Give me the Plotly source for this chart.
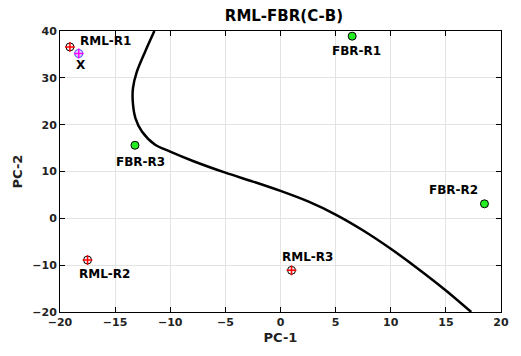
import plotly.graph_objects as go

# Data
rml_names = ["RML-R1", "RML-R2", "RML-R3"]
rml_x = [-19.1, -17.5, 1.0]
rml_y = [36.6, -8.9, -11.1]

fbr_names = ["FBR-R1", "FBR-R2", "FBR-R3"]
fbr_x = [6.5, 18.5, -13.2]
fbr_y = [38.9, 3.1, 15.6]

unk_name = ["X"]
unk_x = [-18.3]
unk_y = [35.2]

curve_x = [-11.44, -12.27, -13.02, -13.38, -13.40, -13.16, -12.57, -11.37, -10.0,
           -8.0, -5.0, -2.5, 0.0, 2.5, 5.0, 7.5, 10.0, 12.5, 15.0, 17.3]
curve_y = [40.0, 35.64, 31.37, 27.83, 24.97, 21.42, 18.56, 15.72, 14.25,
           12.3, 9.75, 7.85, 5.85, 3.6, 0.8, -2.6, -6.5, -10.8, -15.4, -20.0]

x_ticks = [-20, -15, -10, -5, 0, 5, 10, 15, 20]
y_ticks = [-20, -10, 0, 10, 20, 30, 40]

FONT = "DejaVu Sans"

fig = go.Figure()

fig.add_trace(go.Scatter(x=curve_x, y=curve_y, mode="lines",
                         line=dict(color="black", width=2.5, shape="spline", smoothing=0.8),
                         hoverinfo="skip", showlegend=False))

# RML markers: black circle with red plus
fig.add_trace(go.Scatter(x=rml_x, y=rml_y, mode="markers",
                         marker=dict(symbol="circle", size=8, color="#fff0f0",
                                     line=dict(color="black", width=1)),
                         showlegend=False))
fig.add_trace(go.Scatter(x=rml_x, y=rml_y, mode="markers",
                         marker=dict(symbol="cross-thin", size=7,
                                     line=dict(color="red", width=1.5)),
                         showlegend=False))

# FBR markers: green filled circles
fig.add_trace(go.Scatter(x=fbr_x, y=fbr_y, mode="markers",
                         marker=dict(symbol="circle", size=8, color="#22ee22",
                                     line=dict(color="black", width=1)),
                         showlegend=False))

# Unknown X: blue circle with magenta plus
fig.add_trace(go.Scatter(x=unk_x, y=unk_y, mode="markers",
                         marker=dict(symbol="circle", size=8, color="#e8d8ff",
                                     line=dict(color="#6060ff", width=1.2)),
                         showlegend=False))
fig.add_trace(go.Scatter(x=unk_x, y=unk_y, mode="markers",
                         marker=dict(symbol="cross-thin", size=7,
                                     line=dict(color="#ff00ff", width=1.5)),
                         showlegend=False))

# Label offsets (pixels)
label_shift = {
    "RML-R1": (36, 6), "RML-R2": (17, -14), "RML-R3": (16, 13),
    "FBR-R1": (4, -15), "FBR-R2": (-31, 14), "FBR-R3": (6, -17),
    "X": (2, -12),
}
for names, xs, ys in [(rml_names, rml_x, rml_y), (fbr_names, fbr_x, fbr_y), (unk_name, unk_x, unk_y)]:
    for n, xv, yv in zip(names, xs, ys):
        dx, dy = label_shift[n]
        fig.add_annotation(x=xv, y=yv, text=n, showarrow=False, xshift=dx, yshift=dy,
                           font=dict(family=FONT, size=12, color="black", weight="bold"))

axis_common = dict(showline=True, linecolor="black", linewidth=1, mirror="ticks",
                   ticks="inside", ticklen=5, tickcolor="black", tickwidth=1,
                   showgrid=True, gridcolor="#e3e3e3", gridwidth=1, zeroline=False,
                   tickfont=dict(family=FONT, size=11, color="#222", weight="bold"))

fig.update_xaxes(range=[-20, 20], tickvals=x_ticks, **axis_common,
                 title=dict(text="PC-1", standoff=4,
                            font=dict(family=FONT, size=13, color="#222", weight="bold")))
fig.update_yaxes(range=[-20, 40], tickvals=y_ticks, **axis_common,
                 title=dict(text="PC-2", standoff=6,
                            font=dict(family=FONT, size=13, color="#222", weight="bold")))

fig.update_layout(
    width=521, height=356,
    margin=dict(l=60, r=14, t=31, b=44),
    paper_bgcolor="white", plot_bgcolor="white",
    title=dict(text="RML-FBR(C-B)", x=0.545, xanchor="center", y=0.955, yanchor="middle",
               font=dict(family=FONT, size=15, color="black", weight="bold")),
    showlegend=False,
)

fig.write_html("out.html")
